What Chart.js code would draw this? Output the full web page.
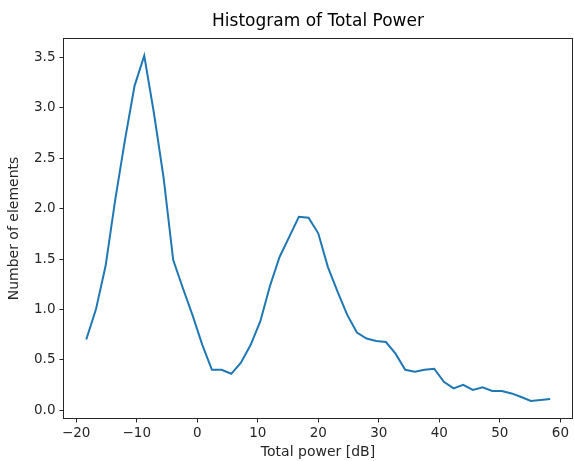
<!DOCTYPE html>
<html>
<head>
<meta charset="utf-8">
<script src="https://cdn.jsdelivr.net/npm/chart.js@4.4.1/dist/chart.umd.min.js"></script>
<style>
    html, body { margin: 0; padding: 0; background: #fff; }
    #wrap { width: 574px; height: 461px; position: relative; }
</style>
</head>
<body>
<div id="wrap"><canvas id="histChart"></canvas></div>
<script>
// bin centres [dB] and counts
const powerDb = [
    -18.34, -16.74, -15.15, -13.55, -11.95, -10.36, -8.76, -7.16, -5.57, -3.97,
    -2.37, -0.77, 0.82, 2.42, 4.02, 5.62, 7.21, 8.81, 10.41, 12.00,
    13.60, 15.20, 16.79, 18.39, 19.99, 21.59, 23.18, 24.78, 26.38, 27.97,
    29.57, 31.17, 32.76, 34.36, 35.96, 37.56, 39.15, 40.75, 42.35, 43.94,
    45.54, 47.14, 48.73, 50.33, 51.93, 53.53, 55.12, 56.72, 58.32
];
const elementCounts = [
    0.70, 1.00, 1.43, 2.09, 2.68, 3.22, 3.52, 2.95, 2.31, 1.49,
    1.21, 0.94, 0.65, 0.40, 0.40, 0.36, 0.47, 0.645, 0.88, 1.23,
    1.52, 1.72, 1.92, 1.91, 1.755, 1.42, 1.175, 0.945, 0.77, 0.71,
    0.685, 0.675, 0.56, 0.40, 0.38, 0.40, 0.41, 0.28, 0.215, 0.25,
    0.20, 0.225, 0.19, 0.19, 0.165, 0.13, 0.09, 0.10, 0.11
];
const xTicks = [-20, -10, 0, 10, 20, 30, 40, 50, 60];
const yTicks = [0, 0.5, 1.0, 1.5, 2.0, 2.5, 3.0, 3.5];

const FONT = "'DejaVu Sans', sans-serif";
const INK = '#262626';

// matplotlib-style closed frame around the axes
const frameBox = {
    id: 'frameBox',
    afterDraw(c) {
        const { ctx, chartArea: a } = c;
        ctx.save();
        ctx.strokeStyle = INK;
        ctx.lineWidth = 1;
        ctx.strokeRect(a.left, a.top, a.right - a.left, a.bottom - a.top);
        ctx.restore();
    }
};

const points = powerDb.map((x, i) => ({ x, y: elementCounts[i] }));

new Chart(document.getElementById('histChart'), {
    type: 'line',
    data: {
        datasets: [{
            data: points,
            borderColor: '#1f77b4',
            borderWidth: 2,
            pointRadius: 0,
            tension: 0,
            fill: false
        }]
    },
    options: {
        responsive: true,
        maintainAspectRatio: false,
        animation: false,
        layout: { padding: { right: 1.5 } },
        plugins: {
            legend: { display: false },
            tooltip: { enabled: false },
            title: {
                display: true,
                text: 'Histogram of Total Power',
                fullSize: false,
                color: '#000',
                font: { family: FONT, size: 17, weight: 'normal' },
                padding: { top: 11.5, bottom: 6.6 }
            }
        },
        scales: {
            x: {
                type: 'linear',
                min: -22.1,
                max: 62.0,
                afterBuildTicks: s => { s.ticks = xTicks.map(v => ({ value: v })); },
                afterFit: s => { s.height = 42.5; },
                grid: { drawOnChartArea: false, drawTicks: true, tickLength: 4, color: INK },
                border: { display: true, color: INK },
                ticks: {
                    color: INK,
                    padding: 3,
                    maxRotation: 0,
                    font: { family: FONT, size: 13.5 },
                    callback: v => String(v).replace('-', '\u2212')
                },
                title: {
                    display: true,
                    text: 'Total power [dB]',
                    color: INK,
                    font: { family: FONT, size: 14 },
                    padding: { top: 0, bottom: 0 }
                }
            },
            y: {
                type: 'linear',
                min: -0.084,
                max: 3.69,
                afterBuildTicks: s => { s.ticks = yTicks.map(v => ({ value: v })); },
                afterFit: s => { s.width = 63.5; },
                grid: { drawOnChartArea: false, drawTicks: true, tickLength: 4, color: INK },
                border: { display: true, color: INK },
                ticks: {
                    color: INK,
                    padding: 4,
                    font: { family: FONT, size: 13.5 },
                    callback: v => Number(v).toFixed(1)
                },
                title: {
                    display: true,
                    text: 'Number of elements',
                    color: INK,
                    font: { family: FONT, size: 14 },
                    padding: { top: 6, bottom: 0 }
                }
            }
        }
    },
    plugins: [frameBox]
});
</script>
</body>
</html>
